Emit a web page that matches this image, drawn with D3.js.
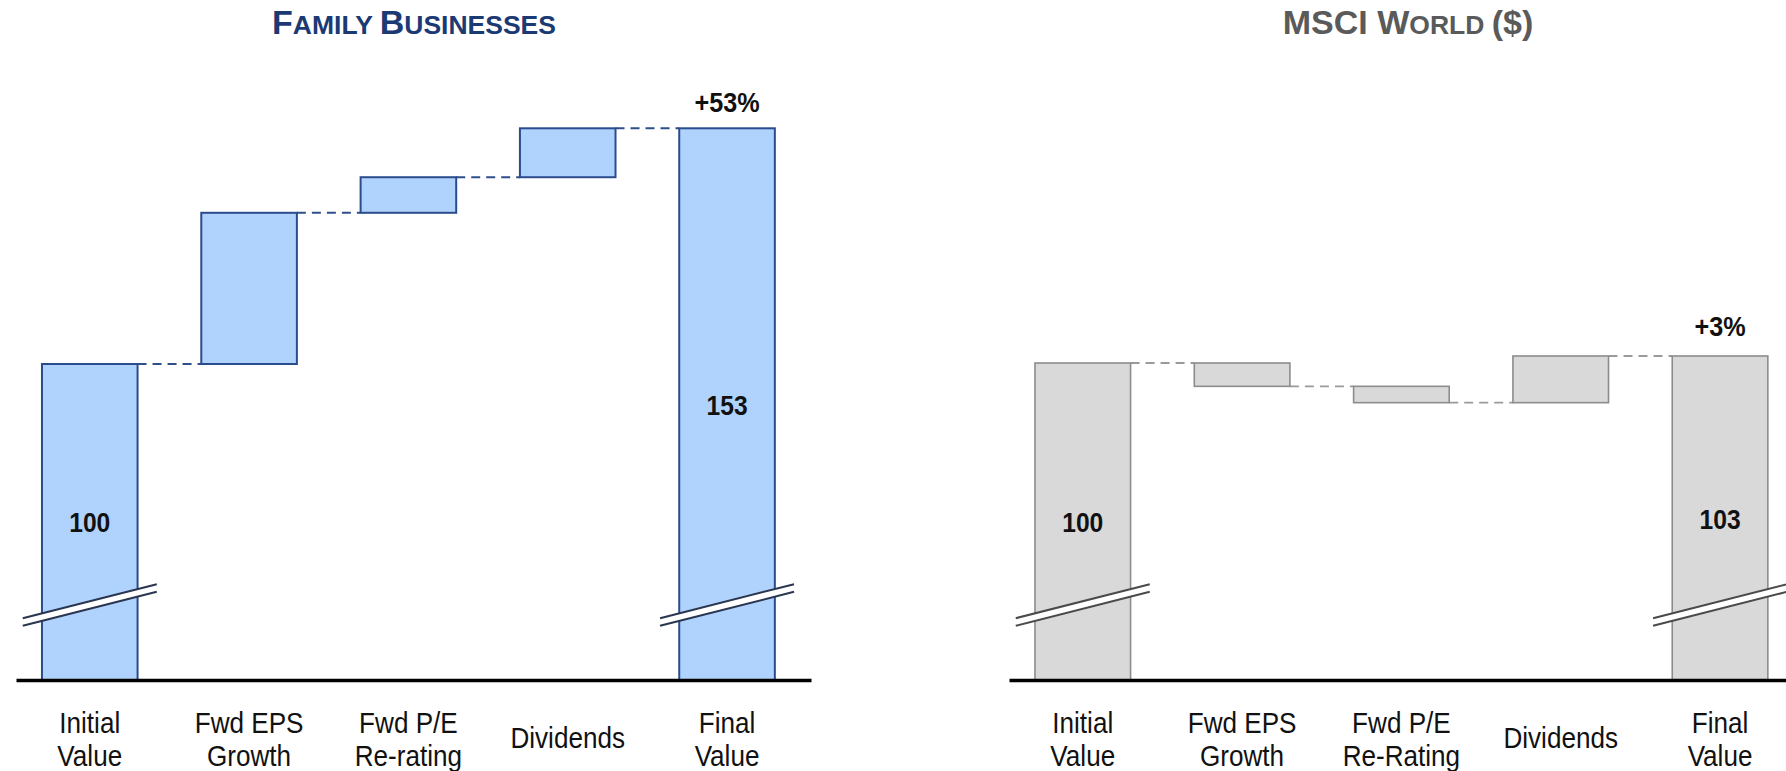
<!DOCTYPE html>
<html>
<head>
<meta charset="utf-8">
<script src="https://cdn.jsdelivr.net/npm/d3@7"></script>
<style>
  html, body { margin: 0; padding: 0; background: #fff; }
  svg { display: block; font-family: Arial, "Liberation Sans", sans-serif; }
</style>
</head>
<body>
<svg id="chart" width="1786" height="771"></svg>
<script>
// ---------- data ----------
const fbCategories = [["Initial", "Value"], ["Fwd EPS", "Growth"], ["Fwd P/E", "Re-rating"], ["Dividends"], ["Final", "Value"]];
const msciCategories = [["Initial", "Value"], ["Fwd EPS", "Growth"], ["Fwd P/E", "Re-Rating"], ["Dividends"], ["Final", "Value"]];
const fbValues = [100, 34, 8, 11, 153];      // initial, steps..., final
const msciValues = [100, -10, -7, 20, 103];
const fbTotals = ["100", "153"];
const msciTotals = ["100", "103"];
const fbChange = "+53%";
const msciChange = "+3%";
const fbTitle = [["F", "big"], ["AMILY ", "small"], ["B", "big"], ["USINESSES", "small"]];
const msciTitle = [["MSCI ", "big"], ["W", "big"], ["ORLD ", "small"], ["($)", "big"]];

// ---------- layout / style ----------
const svg = d3.select("#chart");
const baseY = 680;

const charts = [
  {
    cats: fbCategories, vals: fbValues, totals: fbTotals, change: fbChange, title: fbTitle,
    titleX: 414, titleColor: "#1b3a73",
    xRange: [16, 811], yDomain: [100, 153], yRange: [364, 128.3],
    fill: "#b0d3fe", stroke: "#2b4c8c", strokeW: 2, dash: "#2f4f8a", dashW: 2,
    breakColor: "#2a3550", totalLabelY: [532, 415], changeGap: 16
  },
  {
    cats: msciCategories, vals: msciValues, totals: msciTotals, change: msciChange, title: msciTitle,
    titleX: 1408, titleColor: "#5a5a5a",
    xRange: [1009, 1804], yDomain: [100, 103], yRange: [363, 356],
    fill: "#d9d9d9", stroke: "#8c8c8c", strokeW: 1.6, dash: "#9a9a9a", dashW: 1.8,
    breakColor: "#4a4a4a", totalLabelY: [532, 529], changeGap: 20
  }
];

function narrowText(sel, sx) {
  sel.each(function () {
    const t = d3.select(this);
    const cx = +t.attr("data-cx");
    t.attr("transform", `translate(${cx},0) scale(${sx},1) translate(${-cx},0)`);
  });
}

charts.forEach(c => {
  const g = svg.append("g");
  const names = c.cats.map(d => d.join(" "));
  const x = d3.scaleBand().domain(names).range(c.xRange)
    .paddingInner(0.4).paddingOuter(0.195).align(0.418);
  const y = d3.scaleLinear().domain(c.yDomain).range(c.yRange);
  const bw = x.bandwidth();

  // build waterfall segments
  const n = c.vals.length;
  const segs = [];
  let cum = c.vals[0];
  segs.push({ name: names[0], top: y(c.vals[0]), bottom: baseY });
  for (let i = 1; i < n - 1; i++) {
    const start = cum, end = cum + c.vals[i];
    segs.push({ name: names[i], top: y(Math.max(start, end)), bottom: y(Math.min(start, end)) });
    cum = end;
  }
  segs.push({ name: names[n - 1], top: y(c.vals[n - 1]), bottom: baseY });

  // connectors
  const levels = [];
  let lv = c.vals[0];
  levels.push(lv);
  for (let i = 1; i < n - 1; i++) { lv += c.vals[i]; levels.push(lv); }
  g.append("g").selectAll("line").data(levels).join("line")
    .attr("x1", (d, i) => x(names[i]) + bw)
    .attr("x2", (d, i) => x(names[i + 1]))
    .attr("y1", d => y(d)).attr("y2", d => y(d))
    .attr("stroke", c.dash).attr("stroke-width", c.dashW)
    .attr("stroke-dasharray", "9,6");

  // bars
  g.append("g").selectAll("rect").data(segs).join("rect")
    .attr("x", d => x(d.name)).attr("width", bw)
    .attr("y", d => d.top).attr("height", d => d.bottom - d.top)
    .attr("fill", c.fill).attr("stroke", c.stroke).attr("stroke-width", c.strokeW);

  // axis break marks on the total bars
  [names[0], names[n - 1]].forEach(nm => {
    const cx = x(nm) + bw / 2, cy = 605, hx = 67, hy = 17;
    const bg = g.append("g");
    bg.append("line").attr("x1", cx - hx).attr("y1", cy + hy).attr("x2", cx + hx).attr("y2", cy - hy)
      .attr("stroke", "#fff").attr("stroke-width", 7);
    [-3.8, 3.8].forEach(o => {
      bg.append("line").attr("x1", cx - hx).attr("y1", cy + hy + o).attr("x2", cx + hx).attr("y2", cy - hy + o)
        .attr("stroke", c.breakColor).attr("stroke-width", 2);
    });
  });

  // axis
  const ax = g.append("g").attr("transform", `translate(0,${baseY})`)
    .call(d3.axisBottom(x).tickSize(0).tickFormat(""));
  ax.select(".domain").attr("stroke", "#000").attr("stroke-width", 3.5);

  // category labels
  const lab = g.append("g").selectAll("text").data(c.cats).join("text")
    .attr("x", (d, i) => x(names[i]) + bw / 2)
    .attr("data-cx", (d, i) => x(names[i]) + bw / 2)
    .attr("text-anchor", "middle").attr("font-size", 29).attr("fill", "#111");
  lab.each(function (d) {
    const t = d3.select(this);
    if (d.length === 1) {
      t.append("tspan").attr("x", t.attr("x")).attr("y", 748).text(d[0]);
    } else {
      d.forEach((line, k) => t.append("tspan").attr("x", t.attr("x")).attr("y", 733 + k * 33).text(line));
    }
  });
  narrowText(lab, 0.9);

  // total value labels
  const tl = g.append("g").selectAll("text").data([names[0], names[n - 1]]).join("text")
    .attr("x", d => x(d) + bw / 2)
    .attr("data-cx", d => x(d) + bw / 2)
    .attr("y", (d, i) => c.totalLabelY[i])
    .attr("text-anchor", "middle").attr("font-size", 28).attr("font-weight", "bold").attr("fill", "#111")
    .text((d, i) => c.totals[i]);
  narrowText(tl, 0.88);

  // change label
  const cl = g.append("text")
    .attr("x", x(names[n - 1]) + bw / 2)
    .attr("data-cx", x(names[n - 1]) + bw / 2)
    .attr("y", y(c.vals[n - 1]) - c.changeGap)
    .attr("text-anchor", "middle").attr("font-size", 28).attr("font-weight", "bold").attr("fill", "#111")
    .text(c.change);
  narrowText(cl, 0.9);

  // title (small caps)
  const tt = g.append("text").attr("x", c.titleX).attr("y", 34)
    .attr("text-anchor", "middle").attr("font-weight", "bold").attr("fill", c.titleColor);
  c.title.forEach(([s, kind]) => {
    tt.append("tspan").attr("font-size", kind === "big" ? 34 : 26.5).text(s);
  });
});
</script>
</body>
</html>
